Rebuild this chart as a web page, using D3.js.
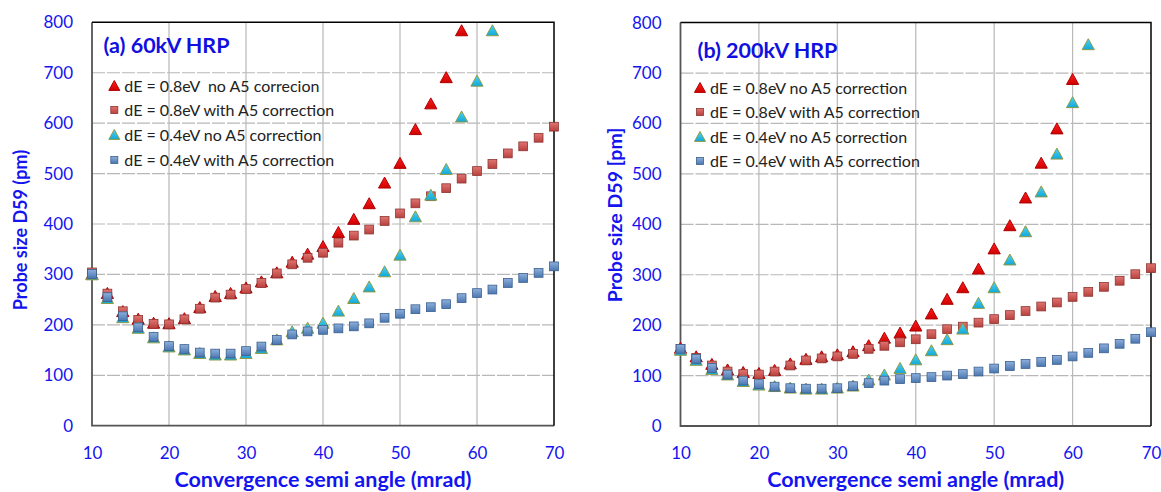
<!DOCTYPE html>
<html>
<head>
<meta charset="utf-8">
<script src="https://cdn.jsdelivr.net/npm/d3@7"></script>
<style>
  body { margin: 0; background: #fff; }
  text { font-family: Lato, "Open Sans", sans-serif; }
</style>
</head>
<body>
<div id="chart"></div>
<script>
// Convergence semi angle (mrad)
const angles = [10, 12, 14, 16, 18, 20, 22, 24, 26, 28, 30, 32, 34, 36, 38, 40,
                42, 44, 46, 48, 50, 52, 54, 56, 58, 60, 62, 64, 66, 68, 70];
const xTicks = [10, 20, 30, 40, 50, 60, 70];
const yTicks = [0, 100, 200, 300, 400, 500, 600, 700, 800];

// (a) 60kV HRP
const a_08_noA5 = [300, 262, 226, 211, 203, 202, 212, 234, 256, 262, 273, 285, 303, 324, 340, 355,
                   383, 409, 440, 481, 520, 587, 638, 690, 783];
const a_08_A5   = [304, 262, 227, 210, 202, 201, 211, 232, 254, 260, 271, 283, 302, 320, 333, 343,
                   363, 377, 389, 406, 421, 441, 455, 471, 490, 505, 519, 540, 554, 571, 593];
const a_04_noA5 = [299, 252, 214, 193, 174, 156, 150, 143, 140, 140, 143, 153, 170, 186, 193, 203,
                   227, 252, 275, 305, 338, 414, 457, 508, 612, 683, 783];
const a_04_A5   = [301, 255, 217, 195, 176, 158, 152, 145, 143, 143, 148, 157, 170, 181, 187, 190,
                   193, 197, 203, 214, 222, 231, 235, 241, 253, 263, 270, 283, 293, 303, 316];

// (b) 200kV HRP
const b_08_noA5 = [154, 137, 122, 111, 106, 104, 110, 123, 132, 137, 141, 147, 159, 174, 184, 198,
                   222, 251, 274, 311, 351, 397, 452, 521, 589, 687];
const b_08_A5   = [153, 135, 120, 108, 103, 102, 108, 120, 130, 134, 138, 143, 153, 159, 166, 172,
                   182, 192, 197, 205, 212, 220, 228, 237, 245, 256, 266, 276, 288, 301, 313];
const b_04_noA5 = [150, 130, 112, 101, 88, 81, 78, 75, 73, 73, 75, 79, 91, 101, 114, 131,
                   149, 171, 192, 243, 274, 329, 385, 464, 539, 641, 756];
const b_04_A5   = [153, 133, 115, 102, 90, 83, 78, 75, 74, 74, 75, 79, 85, 90, 93, 95,
                   97, 100, 103, 108, 114, 119, 123, 127, 131, 138, 145, 154, 163, 173, 186];

const labelsA = ["dE = 0.8eV  no A5 correcion", "dE = 0.8eV with A5 correction",
                 "dE = 0.4eV no A5 correction", "dE = 0.4eV with A5 correction"];
const labelsB = ["dE = 0.8eV no A5 correction", "dE = 0.8eV with A5 correction",
                 "dE = 0.4eV no A5 correction", "dE = 0.4eV with A5 correction"];

const W = 1161, H = 492;
const blue = "#1414f0";

const styles = [
  { shape: "tri", fill: "url(#gRed)", stroke: "#b00000" },
  { shape: "sq",  fill: "url(#gBrown)", stroke: "#8c3532" },
  { shape: "tri", fill: "url(#gCyan)", stroke: "#8f9a45" },
  { shape: "sq",  fill: "url(#gBlue)", stroke: "#3b5f8e" }
];

const panels = [
  { left: 92, right: 554, top: 22.3, bottom: 425.7,
    title: "(a) 60kV HRP", titleX: 103.5, titleY: 52.5,
    ytitle: "Probe size D59 (pm)", ytx: 27, yty: 230, ytSize: 18,
    series: [a_08_noA5, a_08_A5, a_04_noA5, a_04_A5], labels: labelsA,
    legX: 114.3, legY: [86, 110, 135, 160] },
  { left: 680.5, right: 1151, top: 22.6, bottom: 426,
    title: "(b) 200kV HRP", titleX: 697.5, titleY: 57.5,
    ytitle: "Probe size D59 [pm]", ytx: 621.5, yty: 215, ytSize: 19.5,
    series: [b_08_noA5, b_08_A5, b_04_noA5, b_04_A5], labels: labelsB,
    legX: 700, legY: [88, 112, 137, 161] }
];

const svg = d3.select("#chart").append("svg")
  .attr("width", W).attr("height", H);

// gradients for marker fills
const defs = svg.append("defs");
function grad(id, c1, c2) {
  const g = defs.append("linearGradient").attr("id", id)
    .attr("x1", 0).attr("y1", 0).attr("x2", 0).attr("y2", 1);
  g.append("stop").attr("offset", "0%").attr("stop-color", c1);
  g.append("stop").attr("offset", "100%").attr("stop-color", c2);
}
grad("gRed", "#ff2020", "#d00000");
grad("gBrown", "#e07572", "#b8403c");
grad("gCyan", "#4fd3f5", "#10a8d8");
grad("gBlue", "#8eb0dc", "#4a76b0");

function marker(g, shape, cx, cy, st, scale) {
  if (shape === "tri") {
    const s = 6.1 * scale;
    g.append("path")
      .attr("d", `M${cx},${cy - s}L${cx + s},${cy + s * 0.8}L${cx - s},${cy + s * 0.8}Z`)
      .attr("fill", st.fill).attr("stroke", st.stroke).attr("stroke-width", 1);
  } else {
    const s = 4.4 * scale;
    g.append("rect")
      .attr("x", cx - s).attr("y", cy - s).attr("width", 2 * s).attr("height", 2 * s)
      .attr("fill", st.fill).attr("stroke", st.stroke).attr("stroke-width", 0.8);
  }
}

panels.forEach(p => {
  const x = d3.scaleLinear().domain([10, 70]).range([p.left, p.right]);
  const y = d3.scaleLinear().domain([0, 800]).range([p.bottom, p.top]);
  const g = svg.append("g");

  // grid
  g.append("g").selectAll("line").data(xTicks.slice(1, -1)).enter().append("line")
    .attr("x1", d => x(d)).attr("x2", d => x(d)).attr("y1", p.top).attr("y2", p.bottom)
    .attr("stroke", "#b8b8b8").attr("stroke-width", 1.2);
  g.append("g").selectAll("line").data(yTicks.slice(1, -1)).enter().append("line")
    .attr("x1", p.left).attr("x2", p.right).attr("y1", d => y(d)).attr("y2", d => y(d))
    .attr("stroke", "#b8b8b8").attr("stroke-width", 1.2).attr("stroke-dasharray", "13 2");

  // frame: dark grey left/bottom, black top/right
  g.append("path")
    .attr("d", `M${p.left},${p.top}V${p.bottom}H${p.right}`)
    .attr("fill", "none").attr("stroke", "#555").attr("stroke-width", 1.8);
  g.append("path")
    .attr("d", `M${p.left},${p.top}H${p.right}V${p.bottom}`)
    .attr("fill", "none").attr("stroke", "#000").attr("stroke-width", 1.5);

  // axes
  const ax = g.append("g").attr("transform", `translate(0,${p.bottom})`)
    .call(d3.axisBottom(x).tickValues(xTicks).tickSize(0).tickPadding(21));
  const ay = g.append("g").attr("transform", `translate(${p.left},0)`)
    .call(d3.axisLeft(y).tickValues(yTicks).tickSize(0).tickPadding(19));
  [ax, ay].forEach(a => {
    a.select(".domain").remove();
    a.selectAll("text").attr("fill", blue).style("font-size", "17px")
      .style("font-family", "Lato, sans-serif");
  });

  // axis titles
  g.append("text").attr("x", (p.left + p.right) / 2).attr("y", 487)
    .attr("text-anchor", "middle").attr("fill", blue)
    .style("font-size", "21.5px").style("font-weight", "bold")
    .text("Convergence semi angle (mrad)");
  g.append("text").attr("transform", `translate(${p.ytx},${p.yty}) rotate(-90)`)
    .attr("text-anchor", "middle").attr("fill", blue)
    .style("font-size", p.ytSize + "px").style("font-weight", "bold")
    .text(p.ytitle);

  // panel title
  g.append("text").attr("x", p.titleX).attr("y", p.titleY).attr("fill", "#1010e0")
    .style("font-size", "21.5px").style("font-weight", "bold").text(p.title);

  // data points
  p.series.forEach((vals, i) => {
    const sg = g.append("g");
    vals.forEach((v, j) => marker(sg, styles[i].shape, x(angles[j]), y(v), styles[i], 1));
  });

  // legend
  p.labels.forEach((lab, i) => {
    marker(g, styles[i].shape, p.legX, p.legY[i], styles[i], styles[i].shape === "tri" ? 0.9 : 0.8);
    g.append("text").attr("x", p.legX + 10).attr("y", p.legY[i] + 5.6)
      .attr("fill", "#222").style("font-size", "16px").style("white-space", "pre")
      .text(lab);
  });
});
</script>
</body>
</html>
